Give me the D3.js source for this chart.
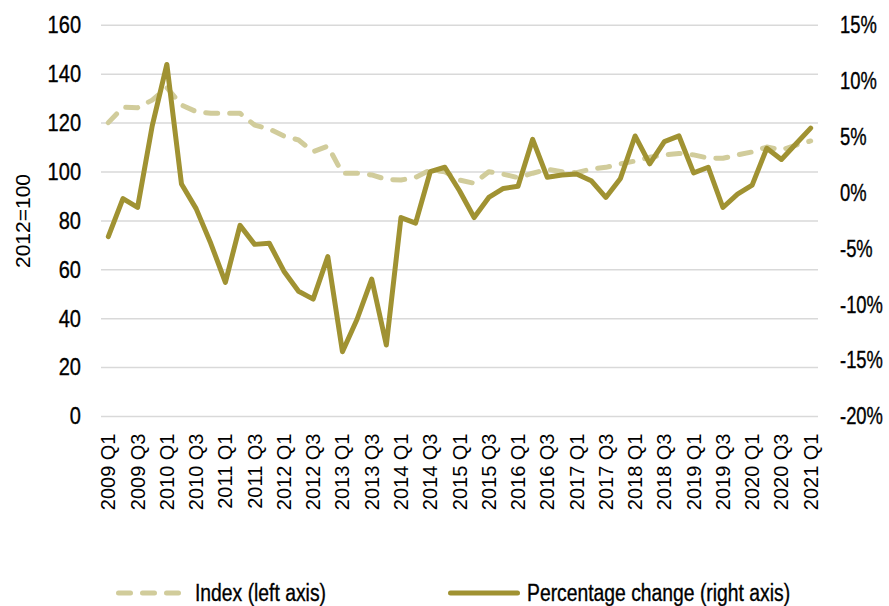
<!DOCTYPE html>
<html>
<head>
<meta charset="utf-8">
<script src="https://cdn.jsdelivr.net/npm/d3@7"></script>
<style>
  body { margin: 0; background: #fff; }
  .axisL text, .axisR text { font-family: "Liberation Sans", Arial, sans-serif; font-size: 23px; fill: #000; stroke: #000; stroke-width: 0.35px; }
  .axisX text { font-family: "Liberation Sans", Arial, sans-serif; font-size: 20px; fill: #000; }
  .legend text { font-family: "Liberation Sans", Arial, sans-serif; font-size: 23px; fill: #000; stroke: #000; stroke-width: 0.35px; }
</style>
</head>
<body>
<svg width="889" height="606"></svg>
<script>
'use strict';

var quarters = [];
for (var yr = 2009; yr <= 2021; yr++) {
    for (var q = 1; q <= 4; q++) {
        if (yr === 2021 && q > 1) break;
        quarters.push(yr + ' Q' + q);
    }
}

// index, 2012=100 (left axis)
var indexValues = [120.2, 126.5, 126.3, 129.4, 134.5, 127.4, 124.7, 124.0, 124.0, 124.0,
    119.2, 117.6, 114.7, 113.1, 108.3, 110.6, 99.5, 99.5, 98.8, 97.0,
    96.7, 97.8, 100.8, 100.1, 96.7, 95.4, 100.1, 99.1, 97.7, 99.5,
    101.1, 100.1, 99.7, 101.2, 101.9, 103.3, 104.5, 106.0, 107.0, 107.6,
    107.0, 105.7, 105.6, 107.0, 108.2, 110.2, 109.0, 111.0, 112.7];

// percentage change (right axis)
var pctValues = [-3.9, -0.5, -1.3, 6.0, 11.5, 0.8, -1.4, -4.5, -8.0, -2.9,
    -4.6, -4.5, -7.0, -8.8, -9.5, -5.7, -14.2, -11.3, -7.7, -13.6,
    -2.2, -2.7, 1.9, 2.3, 0.2, -2.2, -0.4, 0.4, 0.6, 4.8,
    1.4, 1.6, 1.7, 1.1, -0.4, 1.3, 5.1, 2.6, 4.6, 5.1,
    1.8, 2.3, -1.3, -0.1, 0.7, 4.0, 3.0, 4.4, 5.8];

var leftTicks = [0, 20, 40, 60, 80, 100, 120, 140, 160];
var rightTicks = [-20, -15, -10, -5, 0, 5, 10, 15];
var seriesNames = ['Index (left axis)', 'Percentage change (right axis)'];

var COLOR_PCT = '#a09232';
var COLOR_INDEX = '#d1cc9b';

var svg = d3.select('svg');

var x = d3.scaleBand().domain(quarters).range([101, 818]).padding(0);
var yL = d3.scaleLinear().domain([0, 160]).range([416.5, 25.3]);
var yR = d3.scaleLinear().domain([-20, 15]).range([416.5, 25.3]);

function cx(d) { return x(d) + x.bandwidth() / 2; }

//no narrow font installed, so squeeze the glyphs
function condense(sel, k) {
    sel.each(function() {
        var w = this.getComputedTextLength();
        d3.select(this)
            .attr('textLength', w * k)
            .attr('lengthAdjust', 'spacingAndGlyphs');
    });
}

//grid
svg.append('g')
    .attr('id', 'grid-group')
    .selectAll('line')
    .data(leftTicks)
    .enter()
    .append('line')
    .attr('stroke', '#d9d9d9')
    .attr('stroke-width', 1.5)
    .attr('x1', 101)
    .attr('x2', 818)
    .attr('y1', function(d) { return yL(d); })
    .attr('y2', function(d) { return yL(d); });

//axis left
var axisL = d3.axisLeft(yL).tickValues(leftTicks).tickSize(0).tickPadding(0);
svg.append('g')
    .attr('class', 'axisL')
    .attr('transform', 'translate(81,0)')
    .call(axisL)
    .call(function(g) { g.select('.domain').remove(); })
    .selectAll('text')
    .call(condense, 0.87);

//axis right
var axisR = d3.axisRight(yR).tickValues(rightTicks).tickSize(0).tickPadding(0)
    .tickFormat(function(d) { return d + '%'; });
svg.append('g')
    .attr('class', 'axisR')
    .attr('transform', 'translate(840,0)')
    .call(axisR)
    .call(function(g) { g.select('.domain').remove(); })
    .selectAll('text')
    .call(condense, 0.8);

//axis x, every second quarter
var axisX = d3.axisBottom(x)
    .tickValues(quarters.filter(function(d, i) { return i % 2 === 0; }))
    .tickSize(0);
svg.append('g')
    .attr('class', 'axisX')
    .attr('transform', 'translate(0,416.5)')
    .call(axisX)
    .call(function(g) { g.select('.domain').remove(); })
    .selectAll('text')
    .attr('transform', 'rotate(-90)')
    .attr('x', -17)
    .attr('y', 0)
    .attr('dy', '0.35em')
    .style('text-anchor', 'end');

//y title
svg.append('text')
    .attr('transform', 'translate(30,221) rotate(-90)')
    .attr('text-anchor', 'middle')
    .style('font-family', '"Liberation Sans", Arial, sans-serif')
    .style('font-size', '21px')
    .text('2012=100');

//lines
var lineIndex = d3.line()
    .x(function(d, i) { return cx(quarters[i]); })
    .y(function(d) { return yL(d); });

var linePct = d3.line()
    .x(function(d, i) { return cx(quarters[i]); })
    .y(function(d) { return yR(d); });

svg.append('path')
    .datum(indexValues)
    .attr('fill', 'none')
    .attr('stroke', COLOR_INDEX)
    .attr('stroke-width', 5)
    .attr('stroke-linecap', 'round')
    .attr('stroke-linejoin', 'round')
    .attr('stroke-dasharray', '12,12')
    .attr('d', lineIndex);

svg.append('path')
    .datum(pctValues)
    .attr('fill', 'none')
    .attr('stroke', COLOR_PCT)
    .attr('stroke-width', 5)
    .attr('stroke-linecap', 'round')
    .attr('stroke-linejoin', 'round')
    .attr('d', linePct);

//legend
var legend = svg.append('g').attr('class', 'legend');
legend.append('line')
    .attr('x1', 118.5).attr('x2', 178.5)
    .attr('y1', 593).attr('y2', 593)
    .attr('stroke', COLOR_INDEX)
    .attr('stroke-width', 5)
    .attr('stroke-linecap', 'round')
    .attr('stroke-dasharray', '12,12');
legend.append('text')
    .attr('x', 195).attr('y', 593).attr('dy', '0.35em')
    .text(seriesNames[0]);
legend.append('line')
    .attr('x1', 450.5).attr('x2', 517.5)
    .attr('y1', 593).attr('y2', 593)
    .attr('stroke', COLOR_PCT)
    .attr('stroke-width', 5)
    .attr('stroke-linecap', 'round');
legend.append('text')
    .attr('x', 527).attr('y', 593).attr('dy', '0.35em')
    .text(seriesNames[1]);
legend.selectAll('text').call(condense, 0.84);
</script>
</body>
</html>
